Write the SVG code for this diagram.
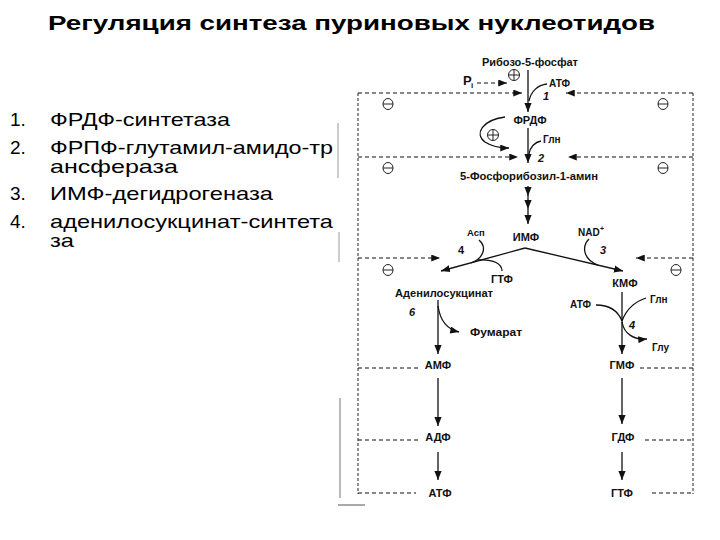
<svg xmlns="http://www.w3.org/2000/svg" width="720" height="540" viewBox="0 0 720 540">
<style>
.title{font-family:"Liberation Sans",Arial,sans-serif;font-weight:bold;font-size:21px;fill:#000}
.li{font-family:"Liberation Sans",Arial,sans-serif;font-size:19px;fill:#000}
.m{font-family:"Liberation Sans",Arial,sans-serif;font-weight:bold;font-size:11px;fill:#111;text-anchor:middle}
.s{font-family:"Liberation Sans",Arial,sans-serif;font-weight:bold;font-size:10px;fill:#111}
.n{font-family:"Liberation Sans",Arial,sans-serif;font-weight:bold;font-style:italic;font-size:11px;fill:#111}
.ln{fill:none;stroke:#111;stroke-width:1.3}
.ds{fill:none;stroke:#111;stroke-width:1.2;stroke-dasharray:4 3}
.bd{fill:none;stroke:#222;stroke-width:1;stroke-dasharray:3 2}
.art{fill:none;stroke:#999;stroke-width:1}
.sym{fill:none;stroke:#222;stroke-width:1}
</style>
<defs>
<marker id="ah" viewBox="0 0 10 8" refX="10" refY="4" markerWidth="9" markerHeight="8" orient="auto" markerUnits="userSpaceOnUse"><path d="M0,0 L10,4 L0,8 Z" fill="#111"/></marker>
<marker id="ahs" viewBox="0 0 10 8" refX="10" refY="4" markerWidth="10" markerHeight="7" orient="auto" markerUnits="userSpaceOnUse"><path d="M0,0 L10,4 L0,8 Z" fill="#111"/></marker>
<symbol id="minus" viewBox="-6 -6 12 12" overflow="visible"><ellipse cx="0" cy="0" rx="5" ry="5.5" class="sym"/><line x1="-5" y1="0" x2="5" y2="0" class="sym"/></symbol>
<symbol id="plus" viewBox="-6 -6 12 12" overflow="visible"><circle cx="0" cy="0" r="5.5" class="sym"/><line x1="-5.5" y1="0" x2="5.5" y2="0" class="sym"/><line x1="0" y1="-5.5" x2="0" y2="5.5" class="sym"/></symbol>
</defs>
<rect width="720" height="540" fill="#fff"/>

<g id="title"><text class="title" x="48" y="30" textLength="607" lengthAdjust="spacingAndGlyphs">Регуляция синтеза пуриновых нуклеотидов</text></g>

<g id="legend">
<text class="li" x="10" y="126">1.</text>
<text class="li" x="50" y="126" textLength="180" lengthAdjust="spacingAndGlyphs">ФРДФ-синтетаза</text>
<text class="li" x="10" y="154">2.</text>
<text class="li" x="50" y="154" textLength="283" lengthAdjust="spacingAndGlyphs">ФРПФ-глутамил-амидо-тр</text>
<text class="li" x="50" y="173" textLength="128" lengthAdjust="spacingAndGlyphs">ансфераза</text>
<text class="li" x="10" y="200">3.</text>
<text class="li" x="50" y="200" textLength="223" lengthAdjust="spacingAndGlyphs">ИМФ-дегидрогеназа</text>
<text class="li" x="10" y="228">4.</text>
<text class="li" x="50" y="228" textLength="283" lengthAdjust="spacingAndGlyphs">аденилосукцинат-синтета</text>
<text class="li" x="50" y="247" textLength="24" lengthAdjust="spacingAndGlyphs">за</text>
</g>

<g id="artifacts">
<line class="art" x1="338" y1="123" x2="338" y2="178"/>
<line class="art" x1="339" y1="232" x2="339" y2="262"/>
<line class="art" x1="340" y1="398" x2="340" y2="498" style="stroke:#777"/>
<line class="art" x1="338" y1="505" x2="365" y2="505" style="stroke:#555"/>
</g>

<g id="connectors">
<line class="bd" x1="358" y1="93" x2="358" y2="494"/>
<line class="bd" x1="693" y1="93" x2="693" y2="494"/>
<line class="ds" x1="358" y1="93" x2="522" y2="93" marker-end="url(#ahs)"/>
<line class="ds" x1="693" y1="93" x2="566" y2="93" marker-end="url(#ahs)"/>
<line class="ds" x1="358" y1="157" x2="518" y2="157" marker-end="url(#ahs)"/>
<line class="ds" x1="693" y1="157" x2="568" y2="157" marker-end="url(#ahs)"/>
<line class="ds" x1="358" y1="258" x2="440" y2="258" marker-end="url(#ahs)"/>
<line class="ds" x1="693" y1="258" x2="636" y2="258" marker-end="url(#ahs)"/>
<line class="ds" x1="358" y1="368" x2="421" y2="368"/>
<line class="ds" x1="640" y1="368" x2="693" y2="368"/>
<line class="ds" x1="358" y1="440" x2="421" y2="440"/>
<line class="ds" x1="645" y1="440" x2="693" y2="440"/>
<line class="ds" x1="358" y1="493" x2="416" y2="493"/>
<line class="ds" x1="652" y1="493" x2="693" y2="493"/>
<line class="ds" x1="477" y1="83" x2="507" y2="83" marker-end="url(#ahs)"/>
<line class="ln" x1="528" y1="70" x2="528" y2="112" marker-end="url(#ah)"/>
<path class="ln" d="M547,84 C538,85 531,91 529,101"/>
<line class="ln" x1="528" y1="128" x2="528" y2="163" marker-end="url(#ah)"/>
<path class="ln" d="M541,141 C535,142 530,147 529,154"/>
<path class="ln" d="M505,117 C482,120 474,134 485,142 C491,146 499,148 509,148" marker-end="url(#ahs)"/>
<polyline class="ln" points="528,186 528,196 528,209 528,224" marker-mid="url(#ah)" marker-end="url(#ah)"/>
<line class="ln" x1="525" y1="248" x2="441" y2="271" marker-end="url(#ah)"/>
<line class="ln" x1="525" y1="248" x2="623" y2="271" marker-end="url(#ah)"/>
<path class="ln" d="M479,240 C487,247 484,258 471,263"/>
<path class="ln" d="M502,271 C502,264 494,259 478,260"/>
<path class="ln" d="M589,239 C581,247 584,260 598,265"/>
<line class="ln" x1="438" y1="300" x2="438" y2="354" marker-end="url(#ah)"/>
<path class="ln" d="M438,306 C440,320 446,329 459,332" marker-end="url(#ahs)"/>
<line class="ln" x1="438" y1="378" x2="438" y2="426" marker-end="url(#ah)"/>
<line class="ln" x1="438" y1="452" x2="438" y2="480" marker-end="url(#ah)"/>
<line class="ln" x1="622" y1="292" x2="622" y2="354" marker-end="url(#ah)"/>
<path class="ln" d="M596,305 C610,305 618,311 622,321"/>
<path class="ln" d="M646,298 C634,302 626,310 622,321"/>
<path class="ln" d="M622,322 C624,334 634,340 647,339" marker-end="url(#ahs)"/>
<line class="ln" x1="622" y1="378" x2="622" y2="424" marker-end="url(#ah)"/>
<line class="ln" x1="622" y1="452" x2="622" y2="480" marker-end="url(#ah)"/>
</g>

<g id="signs">
<use href="#plus" x="508" y="69" width="12" height="12"/>
<use href="#plus" x="487" y="129" width="12" height="12"/>
<use href="#minus" x="382" y="98" width="12" height="12"/>
<use href="#minus" x="657" y="98" width="12" height="12"/>
<use href="#minus" x="382" y="162" width="12" height="12"/>
<use href="#minus" x="657" y="162" width="12" height="12"/>
<use href="#minus" x="382" y="264" width="12" height="12"/>
<use href="#minus" x="670" y="264" width="12" height="12"/>
</g>

<g id="n-ribose"><text class="m" x="530" y="66" textLength="96" lengthAdjust="spacingAndGlyphs">Рибозо-5-фосфат</text></g>
<g id="n-pi"><text class="s" x="463" y="85" style="font-size:13px">P</text><text class="s" x="471" y="88" style="font-size:8px">i</text></g>
<g id="n-atp1"><text class="s" x="549" y="87">АТФ</text></g>
<g id="n-e1"><text class="n" x="543" y="100">1</text></g>
<g id="n-prpp"><text class="m" x="530" y="124">ФРДФ</text></g>
<g id="n-gln1"><text class="s" x="543" y="143">Глн</text></g>
<g id="n-e2"><text class="n" x="538" y="162">2</text></g>
<g id="n-pra"><text class="m" x="529" y="180" textLength="138" lengthAdjust="spacingAndGlyphs">5-Фосфорибозил-1-амин</text></g>
<g id="n-imp"><text class="m" x="526" y="241">ИМФ</text></g>
<g id="n-asp"><text class="s" x="467" y="236" style="font-size:9.5px">Асп</text></g>
<g id="n-e4a"><text class="n" x="458" y="254" style="font-style:normal">4</text></g>
<g id="n-nad"><text class="s" x="578" y="236">NAD</text><text class="s" x="600" y="231" style="font-size:7px">+</text></g>
<g id="n-e3"><text class="n" x="600" y="254">3</text></g>
<g id="n-gtp1"><text class="m" x="502" y="283">ГТФ</text></g>
<g id="n-xmp"><text class="m" x="625" y="287">КМФ</text></g>
<g id="n-adenylosucc"><text class="m" x="444" y="297" textLength="98" lengthAdjust="spacingAndGlyphs">Аденилосукцинат</text></g>
<g id="n-e6"><text class="n" x="409" y="316">6</text></g>
<g id="n-fum"><text class="s" x="470" y="336" textLength="52" lengthAdjust="spacingAndGlyphs">Фумарат</text></g>
<g id="n-atp2"><text class="s" x="570" y="308">АТФ</text></g>
<g id="n-gln2"><text class="s" x="650" y="303">Глн</text></g>
<g id="n-e4b"><text class="n" x="629" y="329">4</text></g>
<g id="n-glu"><text class="s" x="652" y="351">Глу</text></g>
<g id="n-amp"><text class="m" x="438" y="369">АМФ</text></g>
<g id="n-gmp"><text class="m" x="622" y="369">ГМФ</text></g>
<g id="n-adp"><text class="m" x="438" y="441">АДФ</text></g>
<g id="n-gdp"><text class="m" x="623" y="441">ГДФ</text></g>
<g id="n-atp3"><text class="m" x="440" y="497">АТФ</text></g>
<g id="n-gtp2"><text class="m" x="622" y="497">ГТФ</text></g>
</svg>
